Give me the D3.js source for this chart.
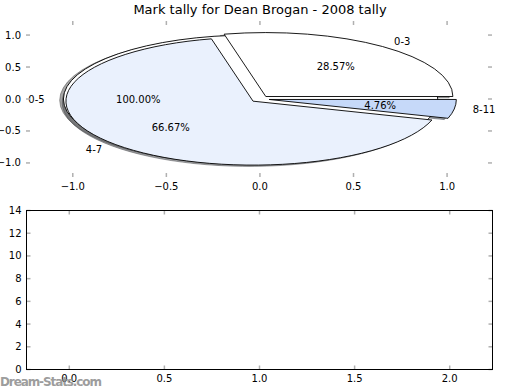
<!DOCTYPE html>
<html><head><meta charset="utf-8">
<script src="https://cdn.jsdelivr.net/npm/d3@7"></script>
<style>body{margin:0;background:#fff} text{font-family:"DejaVu Sans",sans-serif}</style>
</head><body><svg id="c" width="520" height="390"></svg>
<script>
const title = "Mark tally for Dean Brogan - 2008 tally";
const outerLabels = ["0-5"];
const outerValues = [1];
const outerColors = ["#ffffff"];
const outerExplode = [0.05];
const innerLabels = ["0-3", "4-7", "8-11"];
const innerValues = [6, 14, 1];
const innerColors = ["#ffffff", "#eaf1fd", "#c6d9f9"];
const innerExplode = [0.05, 0.05, 0.05];
const pieXTicks = [-1, -0.5, 0, 0.5, 1];
const pieYTicks = [-1, -0.5, 0, 0.5, 1];
const barXTicks = [0, 0.5, 1, 1.5, 2];
const barYTicks = [0, 2, 4, 6, 8, 10, 12, 14];
const watermark = "Dream-Stats.com";

const svg = d3.select("#c");
const fmt1 = d3.format(".1f");

// top axes (pie)
const px = d3.scaleLinear().domain([-1.25, 1.24]).range([26, 492]);
const py = d3.scaleLinear().domain([-1.22, 1.22]).range([177, 21]);
// bottom axes
const bx = d3.scaleLinear().domain([-0.225, 2.225]).range([26.5, 492.5]);
const by = d3.scaleLinear().domain([0, 14]).range([369.5, 210.5]);

svg.append("text").attr("x", 260).attr("y", 14).attr("text-anchor", "middle")
  .attr("font-size", 13).text(title);

const rx = px(1) - px(0), ry = py(0) - py(1);
function pt(cx, cy, t) { return [px(cx + Math.cos(t)), py(cy + Math.sin(t))]; }
function wedgePath(cx, cy, t1, t2) {
  if (Math.abs(t2 - t1 - 2 * Math.PI) < 1e-9) {
    const a = pt(cx, cy, 0), b = pt(cx, cy, Math.PI);
    return `M${a}A${rx},${ry} 0 1 0 ${b}A${rx},${ry} 0 1 0 ${a}Z`;
  }
  const c = [px(cx), py(cy)], a = pt(cx, cy, t1), b = pt(cx, cy, t2);
  const large = (t2 - t1) > Math.PI ? 1 : 0;
  return `M${c}L${a}A${rx},${ry} 0 ${large} 0 ${b}Z`;
}
function layout(values, labels, colors, explode) {
  const arcs = d3.pie().sort(null)(values);
  const total = d3.sum(values);
  return arcs.map((a, i) => {
    const tm = (a.startAngle + a.endAngle) / 2;
    const cx = explode[i] * Math.cos(tm), cy = explode[i] * Math.sin(tm);
    return { t1: a.startAngle, t2: a.endAngle, tm, cx, cy, label: labels[i], color: colors[i],
      pct: (100 * values[i] / total).toFixed(2) + "%" };
  });
}
const pies = [layout(outerValues, outerLabels, outerColors, outerExplode),
              layout(innerValues, innerLabels, innerColors, innerExplode)];

const g = svg.append("g");
// shadows (drawn beneath all wedges)
pies.forEach(p => p.forEach(w => {
  const c = d3.rgb(w.color);
  const sc = d3.rgb(c.r * 0.3, c.g * 0.3, c.b * 0.3);
  g.append("path").attr("d", wedgePath(w.cx - 0.02, w.cy - 0.02, w.t1, w.t2))
    .attr("fill", sc).attr("fill-opacity", 0.5).attr("stroke", sc).attr("stroke-opacity", 0.5)
    .attr("stroke-width", 1);
}));
pies.forEach(p => p.forEach(w => {
  g.append("path").attr("d", wedgePath(w.cx, w.cy, w.t1, w.t2))
    .attr("fill", w.color).attr("stroke", "#000").attr("stroke-width", 0.9)
    .attr("stroke-linejoin", "miter");
}));
pies.forEach(p => p.forEach(w => {
  const lx = w.cx + 1.1 * Math.cos(w.tm), ly = w.cy + 1.1 * Math.sin(w.tm);
  svg.append("text").attr("x", px(lx)).attr("y", py(ly)).attr("font-size", 10)
    .attr("dominant-baseline", "central").attr("text-anchor", lx > 0 ? "start" : "end").text(w.label);
  const tx = w.cx + 0.6 * Math.cos(w.tm), ty = w.cy + 0.6 * Math.sin(w.tm);
  svg.append("text").attr("x", px(tx)).attr("y", py(ty)).attr("font-size", 10)
    .attr("dominant-baseline", "central").attr("text-anchor", "middle").text(w.pct);
}));

const tickCol = "#b0b0b0", tl = 4;
function ticks(xs, ys, X, Y, frame) {
  const [x0, x1] = X.range(), [y0, y1] = Y.range();
  const a = svg.append("g");
  xs.forEach(v => {
    a.append("line").attr("x1", X(v)).attr("x2", X(v)).attr("y1", y0).attr("y2", y0 - tl).attr("stroke", tickCol).attr("stroke-width", 1.5);
    a.append("line").attr("x1", X(v)).attr("x2", X(v)).attr("y1", y1).attr("y2", y1 + tl).attr("stroke", tickCol).attr("stroke-width", 1.5);
    a.append("text").attr("x", X(v)).attr("y", y0 + 9).attr("font-size", 10).attr("text-anchor", "middle")
      .attr("dominant-baseline", "central").text(fmt1(v));
  });
  ys.forEach(v => {
    a.append("line").attr("x1", x0).attr("x2", x0 + tl).attr("y1", Y(v)).attr("y2", Y(v)).attr("stroke", tickCol).attr("stroke-width", 1.5);
    a.append("line").attr("x1", x1).attr("x2", x1 - tl).attr("y1", Y(v)).attr("y2", Y(v)).attr("stroke", tickCol).attr("stroke-width", 1.5);
    a.append("text").attr("x", x0 - 5).attr("y", Y(v)).attr("font-size", 10).attr("text-anchor", "end")
      .attr("dominant-baseline", "central").text(frame ? d3.format("d")(v) : fmt1(v));
  });
  if (frame) a.append("rect").attr("x", x0).attr("y", y1).attr("width", x1 - x0).attr("height", y0 - y1)
    .attr("fill", "none").attr("stroke", "#000").attr("stroke-width", 1);
}
ticks(pieXTicks, pieYTicks, px, py, false);
ticks(barXTicks, barYTicks, bx, by, true);

svg.append("text").attr("x", 0).attr("y", 386).attr("font-size", 12).attr("fill", "#8c8c8c")
  .attr("font-weight", "bold").attr("opacity", 0.85).attr("textLength", 102).text(watermark);
</script></body></html>
